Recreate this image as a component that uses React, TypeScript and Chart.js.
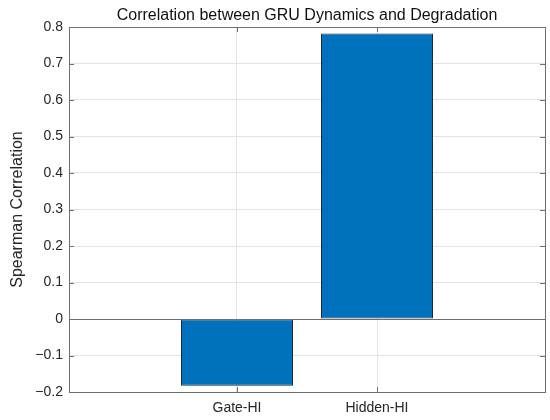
import React, { useEffect, useRef } from "react";
import { Chart, registerables } from "chart.js";

Chart.register(...registerables);

const categories = ["Gate-HI", "Hidden-HI"];
const correlationValues = [-0.183, 0.782];
const yTickValues = [-0.2, -0.1, 0, 0.1, 0.2, 0.3, 0.4, 0.5, 0.6, 0.7, 0.8];

const FONT = "'Liberation Sans', Arial, Helvetica, sans-serif";
const AXIS_COLOR = "#6f6f6f";

const fmt = (v: number) => {
  const r = Math.round(v * 10) / 10;
  if (r === 0) return "0";
  const s = Math.abs(r).toFixed(1);
  return r < 0 ? "\u2212" + s : s;
};

const matlabAxesPlugin = {
  id: "matlabAxes",
  afterDatasetsDraw(chart: any) {
    const { ctx, chartArea, scales } = chart;
    const { left, right, top, bottom } = chartArea;
    ctx.save();
    ctx.strokeStyle = AXIS_COLOR;
    ctx.lineWidth = 1;
    // zero baseline
    const y0 = Math.round(scales.y.getPixelForValue(0)) + 0.5;
    ctx.beginPath();
    ctx.moveTo(left, y0);
    ctx.lineTo(right, y0);
    ctx.stroke();
    // inside ticks
    const tl = 5;
    ctx.beginPath();
    yTickValues.forEach((v) => {
      const py = Math.round(scales.y.getPixelForValue(v)) + 0.5;
      ctx.moveTo(left, py);
      ctx.lineTo(left + tl, py);
      ctx.moveTo(right, py);
      ctx.lineTo(right - tl, py);
    });
    categories.forEach((_, i) => {
      const px = Math.round(scales.x.getPixelForValue(i + 1)) + 0.5;
      ctx.moveTo(px, bottom);
      ctx.lineTo(px, bottom - tl);
      ctx.moveTo(px, top);
      ctx.lineTo(px, top + tl);
    });
    ctx.stroke();
    // box
    ctx.strokeRect(
      Math.round(left) + 0.5,
      Math.round(top) + 0.5,
      Math.round(right - left),
      Math.round(bottom - top)
    );
    ctx.restore();
  },
};

export default function App() {
  const canvasRef = useRef<HTMLCanvasElement | null>(null);

  useEffect(() => {
    if (!canvasRef.current) return;
    const chart = new Chart(canvasRef.current, {
      type: "bar",
      data: {
        datasets: [
          {
            label: "Spearman Correlation",
            data: categories.map((c, i) => ({ x: i + 1, y: correlationValues[i] })),
            backgroundColor: "#0072BD",
            borderColor: "#1c2a38",
            borderWidth: 1,
            borderSkipped: false,
            barPercentage: 1,
            categoryPercentage: 0.8,
          },
        ],
      },
      options: {
        responsive: false,
        animation: false,
        devicePixelRatio: 1,
        layout: { padding: { left: 0, right: 5, top: 0, bottom: 0 } },
        plugins: {
          legend: { display: false },
          tooltip: { enabled: false },
          title: {
            display: true,
            fullSize: false,
            text: "Correlation between GRU Dynamics and Degradation",
            color: "#111111",
            font: { family: FONT, size: 16, weight: "normal" },
            padding: { top: 6, bottom: 1.8 },
          },
        },
        scales: {
          x: {
            type: "linear",
            offset: false,
            min: -0.2,
            max: 3.2,
            afterBuildTicks: (scale: any) => {
              scale.ticks = categories.map((_, i) => ({ value: i + 1 }));
            },
            afterFit: (scale: any) => {
              scale.height = 28;
            },
            ticks: {
              color: "#262626",
              font: { family: FONT, size: 14 },
              padding: 8,
              maxRotation: 0,
              autoSkip: false,
              callback: (v: any) => categories[Math.round(Number(v)) - 1] ?? "",
            },
            grid: { color: "#e3e3e3", drawTicks: false, offset: false },
            border: { display: false },
          },
          y: {
            type: "linear",
            min: -0.2,
            max: 0.8,
            afterBuildTicks: (scale: any) => {
              scale.ticks = yTickValues.map((v) => ({ value: v }));
            },
            afterFit: (scale: any) => {
              scale.width = 69;
            },
            ticks: {
              color: "#262626",
              font: { family: FONT, size: 14 },
              padding: 6,
              autoSkip: false,
              callback: (v: any) => fmt(Number(v)),
            },
            grid: { color: "#e3e3e3", drawTicks: false },
            border: { display: false },
            title: {
              display: true,
              text: "Spearman Correlation",
              color: "#262626",
              font: { family: FONT, size: 16 },
              padding: { top: 8, bottom: 0 },
            },
          },
        },
      },
      plugins: [matlabAxesPlugin],
    } as any);
    return () => chart.destroy();
  }, []);

  return (
    <div style={{ position: "absolute", left: 0, top: 0, width: 550, height: 420, background: "#fff" }}>
      <canvas ref={canvasRef} width={550} height={420} style={{ width: 550, height: 420 }} />
    </div>
  );
}
